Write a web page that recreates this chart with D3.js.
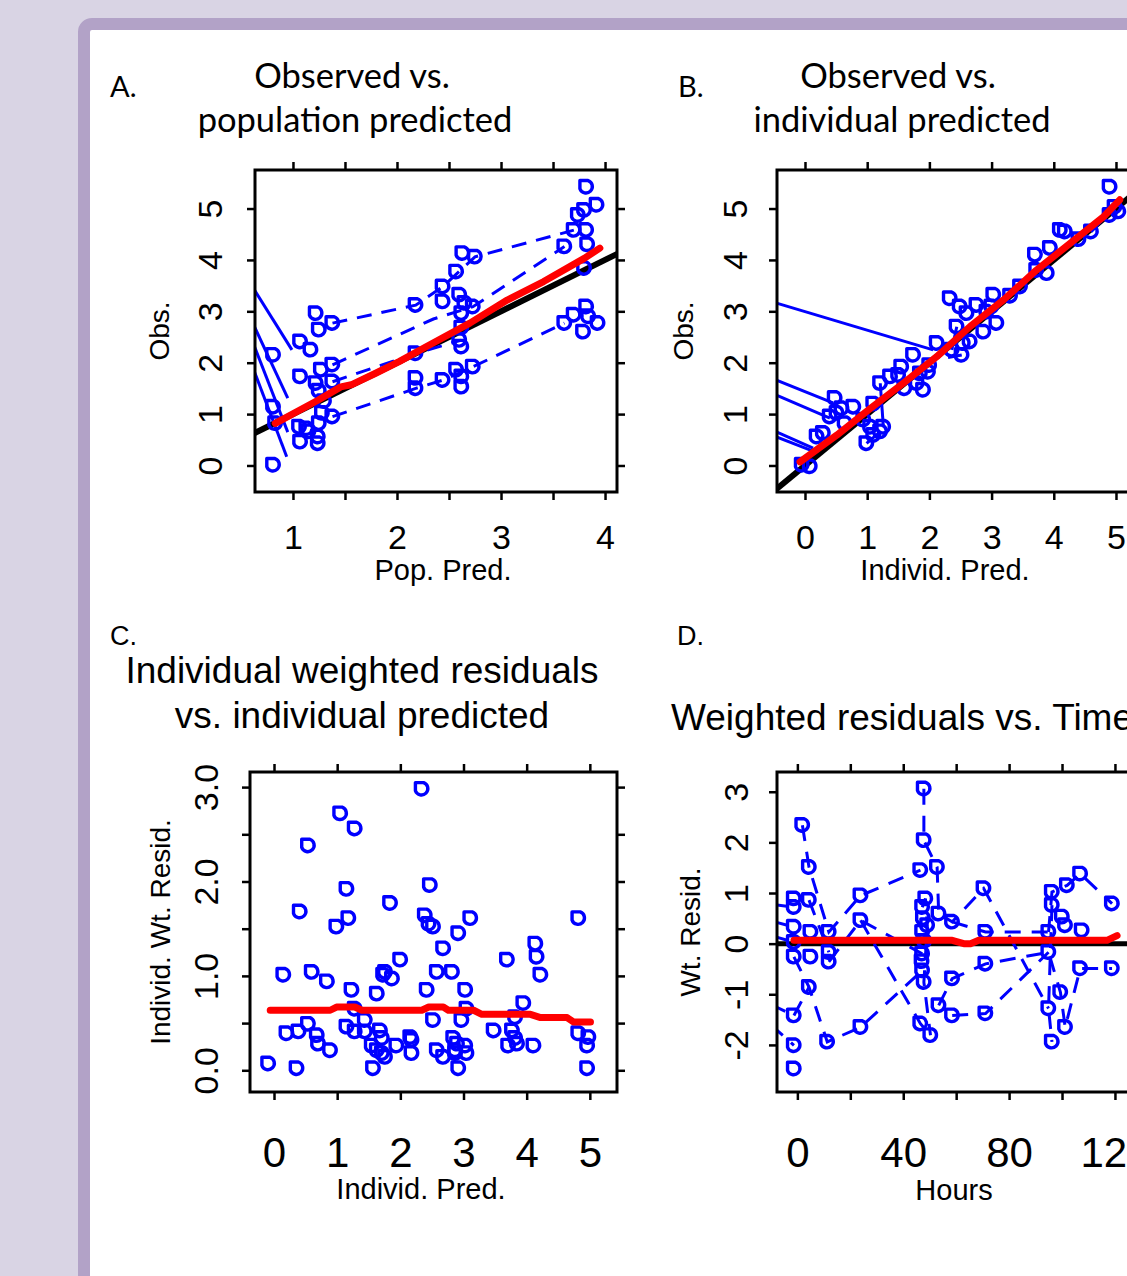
<!DOCTYPE html>
<html>
<head>
<meta charset="utf-8">
<title>Goodness of fit plots</title>
<script src="https://d3js.org/d3.v7.min.js"></script>
<style>
  body { margin: 0; background: #d9d4e4; overflow: hidden; }
  svg text { font-family: "Liberation Sans", Arial, sans-serif; fill: #000; }
</style>
</head>
<body>
<svg id="chart"></svg>
<script>
// ---------- data ----------

// A. observed vs population predicted
const aPoints = [
  [0.81, 2.15], [0.81, 1.14], [0.83, 0.82], [0.81, 0.01],
  [1.22, 2.96], [1.25, 2.64], [1.38, 2.77], [1.07, 2.41], [1.17, 2.25],
  [1.07, 1.73], [1.27, 1.86], [1.38, 1.96], [1.22, 1.60], [1.38, 1.63], [1.25, 1.45], [1.30, 1.25],
  [1.28, 1.02], [1.38, 0.95], [1.06, 0.75], [1.15, 0.66], [1.24, 0.56], [1.07, 0.46],
  [1.24, 0.43], [1.25, 0.82], [1.13, 0.72],
  [2.18, 3.12], [2.18, 2.18], [2.18, 1.70], [2.18, 1.50], [2.44, 1.66],
  [2.63, 4.13], [2.75, 4.06], [2.57, 3.77], [2.44, 3.48], [2.44, 3.19], [2.60, 3.32],
  [2.65, 3.16], [2.73, 3.09], [2.62, 2.96], [2.62, 2.68], [2.60, 2.44], [2.62, 2.31],
  [2.57, 1.86], [2.62, 1.73], [2.73, 1.92], [2.62, 1.53],
  [3.82, 5.42], [3.92, 5.07], [3.74, 4.87], [3.80, 4.97], [3.70, 4.58], [3.82, 4.58],
  [3.61, 4.26], [3.83, 4.30], [3.80, 3.84], [3.82, 3.09], [3.70, 2.93], [3.61, 2.77],
  [3.84, 2.90], [3.93, 2.77], [3.79, 2.60]
];
const aLines = [
  [[1.38, 2.77], [2.18, 3.12], [2.44, 3.48], [2.75, 4.06], [3.70, 4.58]],
  [[1.38, 1.96], [2.35, 2.85], [2.73, 3.09], [3.61, 4.26]],
  [[1.38, 0.95], [2.18, 1.50], [2.44, 1.66], [2.73, 1.92], [3.61, 2.77]],
  [[1.38, 1.63], [2.18, 2.18], [2.62, 2.44]]
];
const aEntry = [
  [[0.60, 3.51], [0.99, 2.25]],
  [[0.60, 2.83], [0.95, 1.31]],
  [[0.60, 2.47], [0.95, 0.65]],
  [[0.60, 1.98], [0.94, 0.17]]
];
const aSmooth = [
  [0.83, 0.82], [1.24, 1.27], [1.46, 1.53], [1.56, 1.57], [1.79, 1.79], [2.02, 2.02],
  [2.28, 2.31], [2.70, 2.77], [3.06, 3.22], [3.41, 3.58], [3.80, 4.03], [3.95, 4.23]
];

// B. observed vs individual predicted
const bPoints = [
  [-0.05, 0.01], [0.08, -0.02], [0.19, 0.56], [0.29, 0.63],
  [0.48, 1.31], [0.51, 1.02], [0.40, 0.95], [0.64, 0.82], [0.78, 1.14], [0.59, 1.11],
  [0.94, 0.89], [1.05, 0.75], [1.21, 0.66], [0.99, 0.43], [1.10, 0.59], [1.26, 0.75], [1.10, 1.20],
  [1.21, 1.60], [1.37, 1.73], [1.50, 1.76], [1.55, 1.92], [1.74, 2.15], [1.85, 1.79],
  [1.80, 1.60], [1.90, 1.47], [1.98, 1.82], [2.12, 2.38], [1.60, 1.50], [2.00, 1.95],
  [2.33, 3.25], [2.49, 3.09], [2.60, 2.96], [2.44, 2.70], [2.76, 3.12], [2.92, 2.99],
  [3.03, 3.32], [3.00, 3.09], [3.08, 2.77], [2.87, 2.60], [2.54, 2.38], [2.65, 2.41],
  [2.52, 2.15], [2.36, 2.25], [3.30, 3.30],
  [3.46, 3.48], [3.72, 3.80], [3.70, 4.10], [3.89, 3.74], [3.94, 4.23], [4.10, 4.58],
  [4.18, 4.55], [4.40, 4.40], [4.60, 4.55], [4.90, 5.42], [4.98, 5.03], [5.04, 4.94], [4.90, 4.87]
];
const bLines = [
  [[1.26, 0.75], [1.21, 1.60]],
  [[2.36, 2.25], [2.44, 2.70]],
  [[2.52, 2.15], [2.30, 2.10]],
  [[3.46, 3.48], [3.72, 3.80]],
  [[4.60, 4.55], [4.98, 5.03]],
  [[0.99, 0.43], [1.21, 0.66]]
];
const bEntry = [
  [[-0.60, 3.21], [2.06, 2.25]],
  [[-0.60, 1.73], [0.45, 1.22]],
  [[-0.60, 1.44], [0.40, 0.92]],
  [[-0.60, 0.73], [0.13, 0.34]],
  [[-0.60, 0.62], [0.15, 0.27]]
];
const bSmooth = [
  [-0.08, 0.07], [0.51, 0.59], [1.05, 1.11], [1.58, 1.60], [2.12, 2.12], [2.65, 2.70],
  [3.19, 3.22], [3.72, 3.80], [4.26, 4.32], [4.80, 4.84], [5.06, 5.17]
];

// C. individual weighted residuals vs individual predicted
const cPoints = [
  [2.34, 2.98], [1.05, 2.72], [1.28, 2.56], [0.54, 2.38], [2.47, 1.96], [1.15, 1.92],
  [1.84, 1.77], [0.41, 1.68], [4.82, 1.61], [2.39, 1.64], [1.18, 1.61], [0.99, 1.52],
  [2.45, 1.55], [2.52, 1.52], [3.11, 1.61], [2.92, 1.45], [2.68, 1.29], [4.14, 1.34],
  [4.16, 1.20], [3.69, 1.17], [2.00, 1.17], [0.15, 1.01], [0.60, 1.04], [0.84, 0.94],
  [1.76, 1.04], [1.73, 1.01], [1.87, 0.97], [2.58, 1.04], [2.82, 1.04], [4.22, 1.01],
  [1.23, 0.85], [1.63, 0.81], [2.42, 0.85], [3.03, 0.85], [1.28, 0.65], [3.95, 0.71],
  [3.05, 0.65], [1.44, 0.53], [2.52, 0.53], [2.97, 0.53], [3.82, 0.56], [0.54, 0.49],
  [0.20, 0.39], [0.39, 0.41], [0.68, 0.37], [1.15, 0.46], [1.28, 0.41], [1.44, 0.41],
  [1.68, 0.42], [1.71, 0.34], [0.70, 0.28], [0.89, 0.21], [1.55, 0.26], [1.63, 0.21],
  [1.71, 0.18], [1.76, 0.14], [1.94, 0.26], [2.16, 0.35], [2.18, 0.32], [2.18, 0.18],
  [2.58, 0.21], [2.68, 0.14], [2.84, 0.34], [2.90, 0.28], [2.87, 0.21], [3.03, 0.26],
  [3.05, 0.18], [2.87, 0.18], [3.48, 0.42], [3.77, 0.42], [3.82, 0.34], [3.71, 0.26],
  [3.85, 0.28], [4.11, 0.26], [4.82, 0.39], [4.98, 0.35], [4.96, 0.26],
  [-0.09, 0.07], [0.36, 0.02], [1.57, 0.02], [2.92, 0.02], [4.96, 0.02]
];
const cSmooth = [
  [-0.06, 0.636], [0.89, 0.636], [0.99, 0.67], [1.28, 0.67], [1.39, 0.636], [2.34, 0.636],
  [2.45, 0.67], [2.68, 0.67], [2.76, 0.636], [3.16, 0.636], [3.29, 0.593], [4.06, 0.593],
  [4.22, 0.558], [4.64, 0.558], [4.74, 0.512], [5.01, 0.512]
];

// D. weighted residuals vs time (hours)
const dPoints = [
  [47.8, 3.06], [1.9, 2.34], [47.8, 2.04], [52.8, 1.51], [46.5, 1.45], [4.4, 1.51],
  [106.9, 1.38], [101.9, 1.15], [70.4, 1.09], [96.2, 1.02], [23.9, 0.95], [118.9, 0.79],
  [-1.3, 0.89], [4.4, 0.86], [48.4, 0.89], [96.2, 0.76], [47.2, 0.72], [-1.3, 0.72],
  [53.4, 0.59], [100.0, 0.53], [23.9, 0.46], [58.5, 0.43], [-1.3, 0.33], [49.1, 0.36],
  [101.2, 0.36], [107.5, 0.26], [5.0, 0.23], [11.9, 0.23], [47.2, 0.23], [71.1, 0.23],
  [94.9, 0.23], [-1.3, 0.03], [11.9, -0.17], [-1.3, -0.26], [5.0, -0.26], [11.9, -0.36],
  [47.2, -0.20], [94.9, -0.17], [71.1, -0.40], [106.9, -0.49], [118.9, -0.49], [47.2, -0.53],
  [47.8, -0.76], [58.5, -0.69], [4.4, -0.86], [99.4, -0.96], [53.4, -1.22], [94.9, -1.28],
  [-1.3, -1.42], [58.5, -1.42], [71.1, -1.38], [46.5, -1.58], [23.9, -1.65], [101.2, -1.65],
  [50.3, -1.81], [11.3, -1.94], [96.2, -1.94], [-1.3, -2.01], [-1.3, -2.47],
  [47.5, 0.50], [48.0, 0.05], [47.0, -0.35]
];
const dLines = [
  [[-10, 0.78], [-1.3, 0.72]],
  [[-10, 0.45], [-1.3, 0.33]],
  [[-10, 0.16], [-1.3, 0.03]],
  [[-10, -1.20], [-1.3, -1.42]],
  [[-10, -1.60], [-1.3, -2.01]],
  [[1.9, 2.34], [4.4, 1.51], [11.9, 0.23], [23.9, 0.95], [46.5, 1.45]],
  [[47.8, 3.06], [47.8, 2.04], [52.8, 1.51], [53.4, 0.59], [58.5, 0.43], [70.4, 1.09], [94.9, -1.28]],
  [[94.9, 0.23], [96.2, 1.02], [101.9, 1.15], [106.9, 1.38], [118.9, 0.79]],
  [[-1.3, -0.26], [4.4, -0.86], [11.3, -1.94], [23.9, -1.65], [47.2, -0.53]],
  [[11.9, -0.36], [23.9, 0.46], [47.2, -0.20]],
  [[23.9, 0.46], [46.5, -1.58], [50.3, -1.81]],
  [[53.4, -1.22], [58.5, -0.69], [71.1, -0.40], [94.9, -0.17], [99.4, -0.96], [101.2, -1.65], [106.9, -0.49], [118.9, -0.49]],
  [[58.5, -1.42], [71.1, -1.38], [94.9, -0.17]],
  [[58.5, 0.43], [71.1, 0.23], [94.9, 0.23]],
  [[96.2, 0.76], [94.9, -1.28], [96.2, -1.94]],
  [[4.4, 0.86], [11.9, -0.17]],
  [[-1.3, -1.42], [4.4, -0.86]],
  [[47.2, 0.72], [48.4, 0.89], [49.1, 0.36], [47.8, -0.76], [50.3, -1.81]]
];
const dSmooth = [
  [-1.3, 0.065], [58.5, 0.065], [62.9, 0.0], [65.4, 0.0], [68.5, 0.065],
  [117.0, 0.065], [120.8, 0.16]
];

// reference lines
const identity = [[-2, -2], [7, 7]];
const zeroLine = [[-20, 0], [200, 0]];

// axis ticks and labels
const aXTicks = [1, 1.5, 2, 2.5, 3, 3.5, 4];
const aXLabels = [1, 2, 3, 4];
const obsTicks = [0, 1, 2, 3, 4, 5];
const predTicks = [0, 1, 2, 3, 4, 5];
const cYTicks = [0, 0.5, 1, 1.5, 2, 2.5, 3];
const cYLabels = [0, 1, 2, 3];
const hourTicks = [0, 20, 40, 60, 80, 100, 120];
const hourLabels = [0, 40, 80, 120];
const resTicks = [-2, -1, 0, 1, 2, 3];

// ---------- drawing ----------
const W = 1127, H = 1276;
const svg = d3.select('#chart').attr('width', W).attr('height', H);

svg.append('rect').attr('width', W).attr('height', H).attr('fill', '#d9d4e4');
svg.append('rect')
  .attr('x', 84).attr('y', 24).attr('width', 1200).attr('height', 1400).attr('rx', 8)
  .attr('fill', '#fff').attr('stroke', '#b2a2c7').attr('stroke-width', 12);

const marker = 'M-6.4,-6.4 L1.8,-6.4 A6.4,6.4 0 1 1 -6.4,1.8 Z';
const line = (x, y) => d3.line().x(d => x(d[0])).y(d => y(d[1]));
// R style numbers: plain hyphen for negatives
const num = digits => d => digits ? d.toFixed(digits) : String(d);

function drawPanel(p) {
  const x = d3.scaleLinear().domain(p.xDom).range([p.box[0], p.box[2]]);
  const y = d3.scaleLinear().domain(p.yDom).range([p.box[3], p.box[1]]);
  const g = svg.append('g');

  svg.append('clipPath').attr('id', 'clip' + p.id).append('rect')
    .attr('x', p.box[0]).attr('y', p.box[1])
    .attr('width', p.box[2] - p.box[0]).attr('height', p.box[3] - p.box[1]);
  const plot = g.append('g').attr('clip-path', `url(#clip${p.id})`);

  // reference line
  if (p.ref) {
    plot.append('path').datum(p.ref)
      .attr('d', line(x, y)).attr('fill', 'none')
      .attr('stroke', '#000').attr('stroke-width', p.refWidth);
  }

  // subject lines
  (p.entry || []).forEach(l => plot.append('path').datum(l)
    .attr('d', line(x, y)).attr('fill', 'none')
    .attr('stroke', '#0000ff').attr('stroke-width', 3));
  p.lines.forEach(l => plot.append('path').datum(l)
    .attr('d', line(x, y)).attr('fill', 'none')
    .attr('stroke', '#0000ff').attr('stroke-width', 3)
    .attr('stroke-dasharray', p.dash));

  // points
  plot.selectAll('path.pt').data(p.points).enter().append('path')
    .attr('class', 'pt')
    .attr('d', marker)
    .attr('transform', d => `translate(${x(d[0])},${y(d[1])})`)
    .attr('fill', 'none').attr('stroke', '#0000ff').attr('stroke-width', 3.4)
    .attr('stroke-linejoin', 'round');

  // smooth
  plot.append('path').datum(p.smooth)
    .attr('d', line(x, y)).attr('fill', 'none')
    .attr('stroke', '#ff0000').attr('stroke-width', 7)
    .attr('stroke-linecap', 'round').attr('stroke-linejoin', 'round');

  // box
  g.append('rect')
    .attr('x', p.box[0]).attr('y', p.box[1])
    .attr('width', p.box[2] - p.box[0]).attr('height', p.box[3] - p.box[1])
    .attr('fill', 'none').attr('stroke', '#000').attr('stroke-width', 3);

  const styleAxis = s => {
    s.select('.domain').remove();
    s.selectAll('.tick line').attr('stroke', '#000').attr('stroke-width', 2.5);
  };

  // bottom axis with labels
  const bx = g.append('g').attr('transform', `translate(0,${p.box[3]})`)
    .call(d3.axisBottom(x).tickValues(p.xTicks).tickSize(8)
      .tickFormat(d => p.xLabels.includes(d) ? num(0)(d) : ''))
    .call(styleAxis);
  bx.selectAll('text').attr('y', p.xLabY).attr('dy', null)
    .style('font-size', p.xLabSize + 'px').attr('font-family', null);

  g.append('g').attr('transform', `translate(0,${p.box[1]})`)
    .call(d3.axisTop(x).tickValues(p.xTicks).tickSize(8).tickFormat(''))
    .call(styleAxis);

  // left axis with rotated labels
  const ly = g.append('g').attr('transform', `translate(${p.box[0]},0)`)
    .call(d3.axisLeft(y).tickValues(p.yTicks).tickSize(8)
      .tickFormat(d => p.yLabels.includes(d) ? num(p.yDigits)(d) : ''))
    .call(styleAxis);
  ly.selectAll('text')
    .attr('x', 0).attr('y', -p.yLabX).attr('dy', null)
    .attr('transform', 'rotate(-90)').attr('text-anchor', 'middle')
    .style('font-size', p.yLabSize + 'px').attr('font-family', null);

  g.append('g').attr('transform', `translate(${p.box[2]},0)`)
    .call(d3.axisRight(y).tickValues(p.yTicks).tickSize(8).tickFormat(''))
    .call(styleAxis);

  // axis titles
  g.append('text')
    .attr('x', p.xTitleX).attr('y', p.box[3] + p.xTitleY)
    .attr('text-anchor', 'middle').style('font-size', '29px').text(p.xTitle);
  const cy = (p.box[1] + p.box[3]) / 2;
  g.append('text')
    .attr('transform', `translate(${p.box[0] - p.yTitleX},${cy}) rotate(-90)`)
    .attr('text-anchor', 'middle').style('font-size', '28px').text(p.yTitle);
}

const panels = [
  { id: 'A', box: [255, 170, 617, 492], xDom: [0.635, 4.115], yDom: [-0.516, 5.75],
    xTicks: aXTicks, xLabels: aXLabels, yTicks: obsTicks, yLabels: obsTicks, yDigits: 0,
    points: aPoints, lines: aLines, entry: aEntry, smooth: aSmooth, ref: identity, refWidth: 6,
    dash: '15,10', xLabY: 57, xLabSize: 34, yLabX: 33, yLabSize: 34,
    xTitle: 'Pop. Pred.', xTitleX: 443, xTitleY: 88, yTitle: 'Obs.', yTitleX: 86 },
  { id: 'B', box: [777, 170, 1139, 492], xDom: [-0.45, 5.37], yDom: [-0.516, 5.75],
    xTicks: predTicks, xLabels: predTicks, yTicks: obsTicks, yLabels: obsTicks, yDigits: 0,
    points: bPoints, lines: bLines, entry: bEntry, smooth: bSmooth, ref: identity, refWidth: 6,
    dash: null, xLabY: 57, xLabSize: 34, yLabX: 30, yLabSize: 34,
    xTitle: 'Individ. Pred.', xTitleX: 945, xTitleY: 88, yTitle: 'Obs.', yTitleX: 84 },
  { id: 'C', box: [250, 772, 617, 1092], xDom: [-0.38, 5.43], yDom: [-0.23, 3.16],
    xTicks: predTicks, xLabels: predTicks, yTicks: cYTicks, yLabels: cYLabels, yDigits: 1,
    points: cPoints, lines: [], smooth: cSmooth, ref: null, refWidth: 0,
    dash: null, xLabY: 75, xLabSize: 42, yLabX: 32, yLabSize: 34,
    xTitle: 'Individ. Pred.', xTitleX: 421, xTitleY: 107, yTitle: 'Individ. Wt. Resid.', yTitleX: 80 },
  { id: 'D', box: [777, 772, 1143, 1092], xDom: [-7.7, 130.6], yDom: [-2.93, 3.39],
    xTicks: hourTicks, xLabels: hourLabels, yTicks: resTicks, yLabels: resTicks, yDigits: 0,
    points: dPoints, lines: dLines, smooth: dSmooth, ref: zeroLine, refWidth: 5,
    dash: '16,11', xLabY: 75, xLabSize: 42, yLabX: 29, yLabSize: 34,
    xTitle: 'Hours', xTitleX: 954, xTitleY: 108, yTitle: 'Wt. Resid.', yTitleX: 77 }
];
panels.forEach(drawPanel);

// ---------- panel headings ----------
const slide = '"Lato", "Open Sans", sans-serif';
const heads = [
  { t: 'A.', x: 110, y: 97, s: 29, f: slide, a: 'start' },
  { t: 'Observed vs.', x: 352, y: 88, s: 34.5, f: slide, a: 'middle' },
  { t: 'population predicted', x: 355, y: 132, s: 34.5, f: slide, a: 'middle' },
  { t: 'B.', x: 678, y: 97, s: 29, f: slide, a: 'start' },
  { t: 'Observed vs.', x: 898, y: 88, s: 34.5, f: slide, a: 'middle' },
  { t: 'individual predicted', x: 902, y: 132, s: 34.5, f: slide, a: 'middle' },
  { t: 'C.', x: 110, y: 645, s: 27, f: null, a: 'start' },
  { t: 'Individual weighted residuals', x: 362, y: 683, s: 37, f: null, a: 'middle' },
  { t: 'vs. individual predicted', x: 362, y: 728, s: 37, f: null, a: 'middle' },
  { t: 'D.', x: 677, y: 645, s: 27, f: null, a: 'start' },
  { t: 'Weighted residuals vs. Time', x: 671, y: 730, s: 37, f: null, a: 'start' }
];
svg.selectAll('text.head').data(heads).enter().append('text')
  .attr('class', 'head')
  .attr('x', d => d.x).attr('y', d => d.y)
  .attr('text-anchor', d => d.a)
  .style('font-size', d => d.s + 'px')
  .style('font-family', d => d.f)
  .text(d => d.t);
</script>
</body>
</html>
